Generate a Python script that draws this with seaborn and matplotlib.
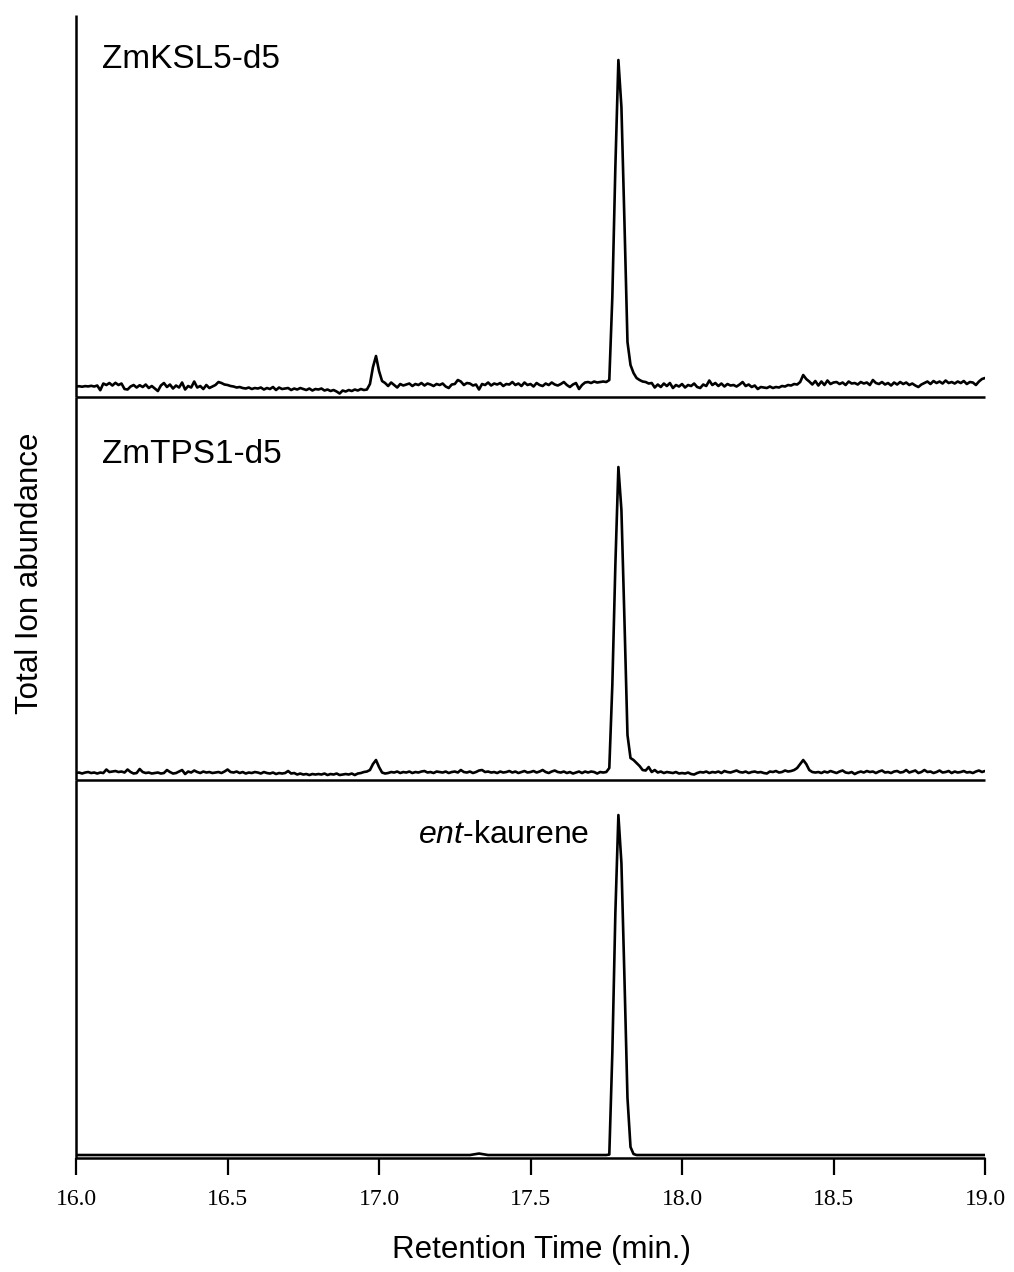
import numpy as np
import matplotlib
matplotlib.use("Agg")
import matplotlib.pyplot as plt
import seaborn as sns

# retention time grid (min), one scan every 0.01 min
retention_time = np.round(np.arange(1600, 1901) / 100, 2)

# ZmKSL5-d5 trace, total ion abundance (arb. units)
ksl5_abundance = [
    10.5, 10.8, 10.3, 10.9, 10.6, 11.2, 10.5, 11.5, 6.8, 13.5,
    12.0, 14.0, 11.5, 14.2, 12.0, 13.5, 8.0, 7.5, 10.5, 12.0,
    9.5, 11.8, 10.0, 12.5, 9.0, 11.0, 8.5, 6.0, 11.5, 14.0,
    10.0, 12.5, 8.5, 11.5, 9.5, 14.5, 7.5, 11.0, 9.5, 15.5,
    9.5, 11.0, 8.0, 12.0, 9.0, 10.5, 12.0, 15.0, 14.0, 12.5,
    12.0, 11.0, 10.5, 9.5, 10.0, 9.0, 8.5, 9.5, 8.0, 9.0,
    8.5, 9.5, 7.5, 9.0, 8.0, 10.0, 7.0, 9.5, 8.0, 8.5,
    9.0, 7.0, 8.5, 7.5, 9.0, 8.0, 7.0, 8.5, 6.5, 8.0,
    7.5, 8.5, 6.5, 7.5, 6.0, 7.0, 5.5, 3.5, 6.5, 5.5,
    7.0, 6.0, 7.5, 6.5, 8.0, 7.0, 7.5, 13.0, 30.0, 41.0,
    26.0, 16.0, 14.0, 11.0, 14.5, 12.0, 9.5, 13.0, 11.5, 12.5,
    13.5, 11.0, 13.0, 12.0, 14.0, 11.5, 13.5, 12.5, 11.0, 13.0,
    12.0, 13.5, 10.5, 9.0, 12.5, 13.0, 17.0, 15.5, 12.0, 14.0,
    13.5, 11.5, 12.5, 7.5, 13.0, 12.0, 14.5, 11.5, 13.5, 12.5,
    14.0, 11.0, 13.0, 12.5, 15.0, 12.0, 13.5, 11.0, 14.5, 12.0,
    13.0, 10.5, 14.0, 12.0, 11.0, 13.5, 12.0, 14.5, 12.5, 11.5,
    13.0, 15.0, 12.0, 10.0, 12.5, 14.0, 8.0, 12.0, 14.5, 15.0,
    14.0, 15.5, 14.5, 15.0, 15.5, 15.0, 17.0, 100.0, 230.0, 337.0,
    290.0, 175.0, 55.0, 32.0, 24.0, 19.0, 17.0, 15.5, 15.0, 13.5,
    14.0, 9.5, 12.5, 10.0, 13.5, 11.0, 14.0, 9.0, 12.0, 10.5,
    13.0, 9.5, 12.0, 11.0, 13.5, 10.0, 9.0, 12.5, 11.0, 16.5,
    12.0, 14.0, 11.0, 13.5, 10.5, 13.0, 11.5, 12.0, 10.5, 12.5,
    15.0, 11.0, 12.5, 10.0, 11.5, 8.0, 10.0, 9.5, 9.0, 10.5,
    9.0, 10.0, 9.5, 11.0, 10.5, 12.0, 11.5, 13.0, 12.5, 15.0,
    22.0, 18.0, 15.5, 12.5, 16.0, 11.5, 15.5, 12.0, 16.5, 13.0,
    14.5, 15.0, 13.0, 14.5, 12.0, 15.5, 13.5, 14.0, 12.5, 15.0,
    13.5, 14.5, 12.0, 17.0, 14.0, 13.0, 15.0, 12.5, 14.0, 11.5,
    14.5, 12.5, 15.0, 13.0, 14.5, 12.0, 13.5, 11.5, 10.0, 12.5,
    14.0, 15.5, 13.0, 16.0, 14.0, 15.5, 13.5, 16.5, 14.0, 15.0,
    13.5, 15.5, 14.0, 16.0, 13.0, 15.0, 14.5, 12.0, 15.5, 18.0,
    19.0,
]

# ZmTPS1-d5 trace
tps1_abundance = [
    7.0, 7.5, 6.5, 7.5, 8.0, 7.0, 7.5, 6.5, 7.5, 7.0,
    10.5, 8.0, 8.5, 9.0, 8.0, 8.5, 7.5, 10.5, 8.0, 6.5,
    7.0, 11.0, 8.0, 7.0, 7.5, 6.5, 7.0, 7.5, 6.5, 7.0,
    10.0, 8.0, 6.5, 7.0, 8.5, 10.0, 6.0, 8.5, 7.5, 9.5,
    8.0, 7.0, 8.5, 7.5, 8.0, 7.0, 7.5, 8.0, 7.0, 8.5,
    10.5, 8.0, 7.5, 8.5, 7.0, 8.0, 6.5, 7.5, 7.0, 8.0,
    7.5, 6.5, 8.0, 7.0, 6.5, 7.5, 6.0, 7.0, 6.5, 7.0,
    9.0, 6.5, 7.0, 5.5, 6.5, 5.5, 6.0, 5.0, 6.0, 5.5,
    6.0, 5.5, 6.5, 5.0, 6.0, 5.5, 6.5, 5.0, 5.5, 6.0,
    5.5, 6.5, 5.0, 6.5, 7.0, 8.0, 8.5, 10.0, 16.0, 20.0,
    13.0, 7.5, 6.5, 7.0, 8.0, 7.5, 8.5, 7.0, 8.0, 7.5,
    8.5, 7.0, 8.0, 7.5, 8.5, 9.0, 7.5, 8.0, 7.0, 8.5,
    8.0, 7.5, 8.5, 7.0, 8.0, 8.5, 7.5, 10.0, 8.0, 7.5,
    8.5, 7.0, 8.0, 9.5, 10.0, 8.0, 8.5, 7.5, 8.0, 7.0,
    8.5, 7.5, 8.0, 9.0, 7.5, 8.5, 7.0, 8.0, 9.0, 7.5,
    8.0, 9.0, 7.5, 8.5, 10.0, 8.0, 7.0, 8.5, 9.5, 8.0,
    7.5, 8.5, 7.0, 8.0, 6.5, 7.5, 8.5, 7.0, 8.5, 7.5,
    8.5, 8.0, 6.5, 8.0, 7.5, 8.0, 12.0, 95.0, 215.0, 313.0,
    270.0, 160.0, 45.0, 22.0, 20.0, 17.0, 14.0, 10.0, 9.5, 13.0,
    8.0, 10.0, 7.5, 8.5, 7.0, 8.0, 7.5, 7.0, 8.0, 6.5,
    7.0, 6.5, 7.5, 6.0, 5.5, 7.0, 8.0, 7.5, 8.5, 7.0,
    8.0, 7.5, 8.5, 7.0, 9.0, 8.0, 7.5, 8.5, 9.5, 8.0,
    7.5, 8.5, 7.0, 8.0, 8.5, 7.5, 8.0, 7.0, 6.5, 8.5,
    8.0, 9.0, 7.5, 8.0, 9.5, 8.5, 9.0, 10.0, 12.0, 16.0,
    20.0, 16.0, 10.0, 8.0, 7.5, 8.0, 7.0, 8.5, 7.5, 9.0,
    8.0, 7.0, 8.5, 9.5, 7.5, 7.0, 8.0, 6.0, 7.5, 8.5,
    7.5, 9.0, 8.0, 8.5, 7.0, 8.5, 9.5, 7.5, 8.0, 7.0,
    8.5, 9.0, 7.5, 8.0, 10.0, 7.5, 8.5, 9.5, 7.0, 8.0,
    10.0, 8.0, 8.5, 7.0, 8.0, 9.5, 7.5, 8.0, 9.0, 7.0,
    8.5, 7.5, 8.0, 9.0, 7.5, 8.0, 7.0, 8.5, 9.5, 8.0,
    9.0,
]

# ent-kaurene standard (flat baseline, recorded where it changes)
kaurene_time = [16.0, 16.5, 17.0, 17.3, 17.33, 17.36, 17.5, 17.7, 17.75,
                17.76, 17.77, 17.78, 17.79, 17.80, 17.81, 17.82, 17.83,
                17.84, 17.85, 18.0, 18.5, 19.0]
kaurene_abundance = [3.0, 3.0, 3.0, 3.0, 4.5, 3.0, 3.0, 3.0, 3.0,
                     3.5, 105.0, 245.0, 343.0, 295.0, 180.0, 60.0, 11.0,
                     4.0, 3.0, 3.0, 3.0, 3.0]

sample_labels = ["ZmKSL5-d5", "ZmTPS1-d5"]
x_ticks = [16.0, 16.5, 17.0, 17.5, 18.0, 18.5, 19.0]
x_tick_labels = ["16.0", "16.5", "17.0", "17.5", "18.0", "18.5", "19.0"]

sns.set_theme(style="white")
plt.rcParams['font.family'] = ['Liberation Sans', 'DejaVu Sans']
plt.rcParams['text.color'] = 'black'
plt.rcParams['xtick.color'] = 'black'
plt.rcParams['mathtext.fontset'] = 'custom'
plt.rcParams['mathtext.rm'] = 'Liberation Sans'
plt.rcParams['mathtext.it'] = 'Liberation Sans:italic'

fig, axes = plt.subplots(
    3, 1, figsize=(10.14, 12.72), dpi=100, sharex=True,
    gridspec_kw={'height_ratios': [382, 383, 378]}
)
fig.subplots_adjust(left=0.0750, right=0.9714, top=0.9882, bottom=0.0896, hspace=0)

traces = [
    (retention_time, ksl5_abundance, 382),
    (retention_time, tps1_abundance, 383),
    (kaurene_time, kaurene_abundance, 378),
]

for ax, (t, y, ytop) in zip(axes, traces):
    ax.set_facecolor('none')
    sns.lineplot(x=t, y=y, ax=ax, color='black', linewidth=1.9,
                 estimator=None, sort=False)
    ax.set_xlim(16.0, 19.0)
    ax.set_ylim(0, ytop)
    ax.set_yticks([])
    ax.set_ylabel('')
    for side in ['top', 'right']:
        ax.spines[side].set_visible(False)
    for side in ['left', 'bottom']:
        ax.spines[side].set_color('black')
        ax.spines[side].set_linewidth(1.8)
        ax.spines[side].set_capstyle('butt')

# sample names
axes[0].text(0.029, 0.862, sample_labels[0], transform=axes[0].transAxes,
             fontsize=24, va='baseline', ha='left')
axes[1].text(0.029, 0.828, sample_labels[1], transform=axes[1].transAxes,
             fontsize=24, va='baseline', ha='left')
axes[2].text(0.376, 0.833, r'$\mathit{ent}$-kaurene', transform=axes[2].transAxes,
             fontsize=23, va='baseline', ha='left')

for ax in axes[:2]:
    ax.tick_params(axis='x', bottom=False, labelbottom=False)

axes[2].set_xticks(x_ticks)
axes[2].set_xticklabels(x_tick_labels, family=['Liberation Serif', 'DejaVu Serif'],
                        fontsize=17)
axes[2].tick_params(axis='x', bottom=True, direction='out', length=12,
                    width=1.6, color='black', pad=10)
axes[2].set_xlabel('')

fig.text(0.534, 0.0173, 'Retention Time (min.)', fontsize=22.5,
         ha='center', va='center')
fig.text(0.030, 0.549, 'Total Ion abundance', fontsize=22.5,
         ha='center', va='center', rotation=90)

plt.savefig('out.png', dpi=100)
plt.close()
